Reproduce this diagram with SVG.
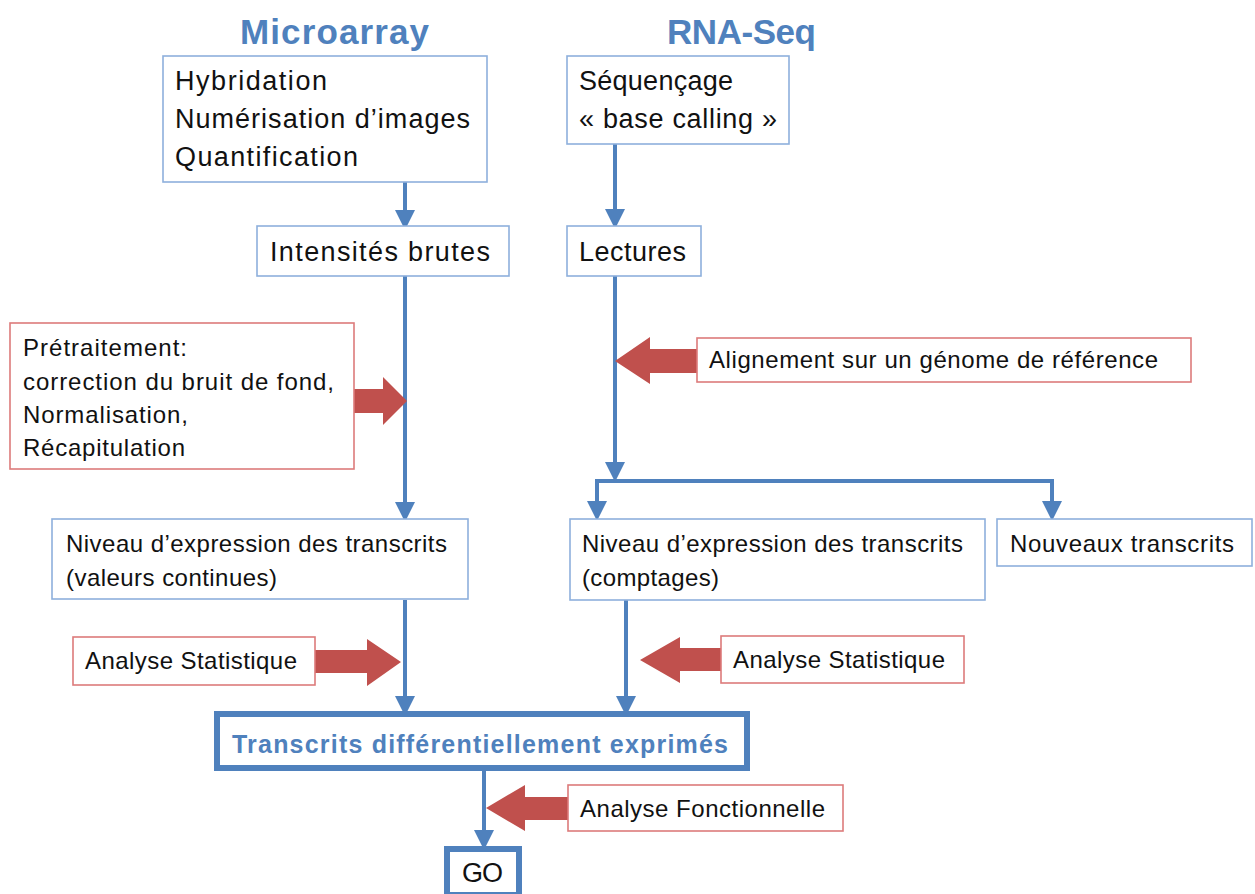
<svg xmlns="http://www.w3.org/2000/svg" width="1255" height="894" viewBox="0 0 1255 894">
<defs>
<style>
text{font-family:"Liberation Sans",Arial,sans-serif;fill:#111;}
.t26{font-size:27px;}
.t23{font-size:24px;}
.title{font-size:35px;font-weight:bold;fill:#4f81bd;}
.bbox{fill:#fff;stroke:#8eb0dc;stroke-width:1.6;}
.rbox{fill:#fff;stroke:#dd7b7b;stroke-width:1.6;}
.thick{fill:#fff;stroke:#4f81bd;stroke-width:6;}
.conn{fill:none;stroke:#4f81bd;stroke-width:4;}
.red{fill:#c0504d;}
</style>
<marker id="ah" markerWidth="5" markerHeight="5" refX="4" refY="2.5" orient="auto" markerUnits="strokeWidth">
<path d="M0,0 L5,2.5 L0,5 Z" fill="#4f81bd"/>
</marker>
</defs>
<rect width="1255" height="894" fill="#fff"/>

<g id="titles">
<text class="title" x="240" y="44" textLength="189">Microarray</text>
<text class="title" x="667" y="44" textLength="149">RNA-Seq</text>
</g>

<g id="connectors">
<path class="conn" d="M405,182 V226" marker-end="url(#ah)"/>
<path class="conn" d="M405,276 V518" marker-end="url(#ah)"/>
<path class="conn" d="M405,600 V712" marker-end="url(#ah)"/>
<path class="conn" d="M615,144 V225" marker-end="url(#ah)"/>
<path class="conn" d="M615,276 V478" marker-end="url(#ah)"/>
<path class="conn" d="M597,517 V481 H1052 V517" marker-end="url(#ah)"/>
<path class="conn" d="M597,490 V517" marker-end="url(#ah)"/>
<path class="conn" d="M626,600 V712" marker-end="url(#ah)"/>
<path class="conn" d="M484,769 V846" marker-end="url(#ah)"/>
<path class="red" d="M354,389 H383 V377 L407,401 L383,425 V413 H354 Z"/>
<path class="red" d="M315,650 H367 V639 L401,662 L367,686 V673 H315 Z"/>
<path class="red" d="M697,349 H650 V337 L615,361 L650,384 V373 H697 Z"/>
<path class="red" d="M721,648 H680 V637 L640,660 L680,683 V671 H721 Z"/>
<path class="red" d="M568,797 H525 V785 L486,808 L525,831 V820 H568 Z"/>
</g>

<g id="n-micro-steps">
<rect class="bbox" x="163" y="56" width="324" height="126"/>
<text class="t26" x="175" y="90" textLength="152">Hybridation</text>
<text class="t26" x="175" y="128" textLength="295">Numérisation d’images</text>
<text class="t26" x="175" y="166" textLength="183">Quantification</text>
</g>

<g id="n-intensites">
<rect class="bbox" x="257" y="226" width="252" height="50"/>
<text class="t26" x="270" y="261" textLength="220">Intensités  brutes</text>
</g>

<g id="n-seq">
<rect class="bbox" x="567" y="56" width="222" height="88"/>
<text class="t26" x="579" y="90" textLength="154">Séquençage</text>
<text class="t26" x="579" y="128" textLength="198">« base calling »</text>
</g>

<g id="n-lectures">
<rect class="bbox" x="567" y="226" width="134" height="50"/>
<text class="t26" x="579" y="261" textLength="107">Lectures</text>
</g>

<g id="n-pretraitement">
<rect class="rbox" x="10" y="323" width="344" height="146"/>
<text class="t23" x="23" y="356" textLength="164">Prétraitement:</text>
<text class="t23" x="23" y="390" textLength="311">correction du bruit de fond,</text>
<text class="t23" x="23" y="423" textLength="165">Normalisation,</text>
<text class="t23" x="23" y="456" textLength="162">Récapitulation</text>
</g>

<g id="n-alignement">
<rect class="rbox" x="697" y="338" width="494" height="44"/>
<text class="t23" x="709" y="368" textLength="449">Alignement sur un génome de référence</text>
</g>

<g id="n-niveau-micro">
<rect class="bbox" x="52" y="519" width="416" height="80"/>
<text class="t23" x="66" y="552" textLength="381">Niveau d’expression  des transcrits</text>
<text class="t23" x="66" y="586" textLength="211">(valeurs continues)</text>
</g>

<g id="n-niveau-rna">
<rect class="bbox" x="570" y="519" width="415" height="81"/>
<text class="t23" x="582" y="552" textLength="381">Niveau d’expression  des transcrits</text>
<text class="t23" x="582" y="586" textLength="137">(comptages)</text>
</g>

<g id="n-nouveaux">
<rect class="bbox" x="997" y="519" width="255" height="47"/>
<text class="t23" x="1010" y="552" textLength="224">Nouveaux transcrits</text>
</g>

<g id="n-stat-left">
<rect class="rbox" x="73" y="637" width="242" height="48"/>
<text class="t23" x="85" y="669" textLength="212">Analyse Statistique</text>
</g>

<g id="n-stat-right">
<rect class="rbox" x="721" y="636" width="243" height="47"/>
<text class="t23" x="733" y="668" textLength="212">Analyse Statistique</text>
</g>

<g id="n-transcrits">
<rect class="thick" x="217" y="714" width="530" height="54"/>
<text x="232" y="753" textLength="496" style="font-size:25px;font-weight:bold;fill:#4f81bd">Transcrits différentiellement exprimés</text>
</g>

<g id="n-fonctionnelle">
<rect class="rbox" x="568" y="785" width="275" height="46"/>
<text class="t23" x="580" y="817" textLength="245">Analyse Fonctionnelle</text>
</g>

<g id="n-go">
<rect class="thick" x="447" y="849" width="72" height="46"/>
<text class="t26" x="462" y="882" textLength="41">GO</text>
</g>
</svg>
